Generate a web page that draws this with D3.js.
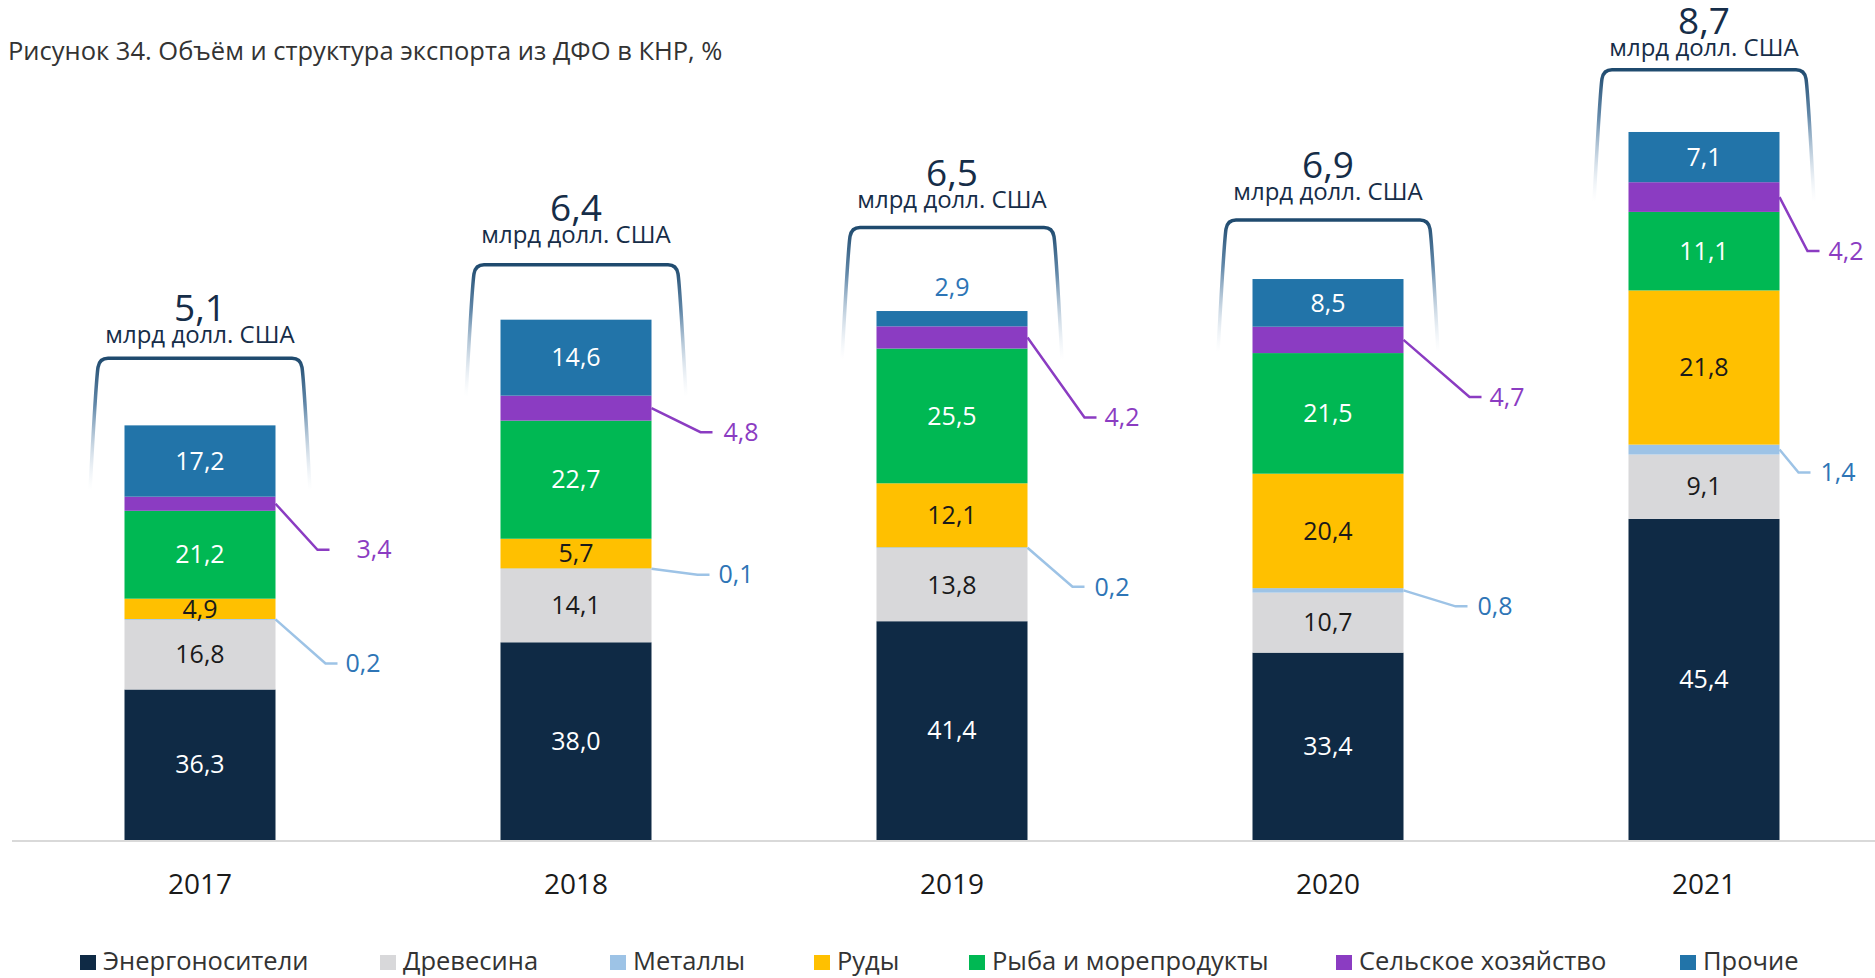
<!DOCTYPE html>
<html>
<head>
<meta charset="utf-8">
<script src="https://cdn.jsdelivr.net/npm/d3@7"></script>
<style>
  body { margin: 0; background: #fff; }
  svg { display: block; font-family: "Open Sans", sans-serif; }
</style>
</head>
<body>
<div id="chart"></div>
<script>
// data, % of the year's export
var years = ["2017", "2018", "2019", "2020", "2021"];
var totals = [5.1, 6.4, 6.5, 6.9, 8.7]; // млрд долл. США
var totalLabels = ["5,1", "6,4", "6,5", "6,9", "8,7"];

var categories = ["Энергоносители", "Древесина", "Металлы", "Руды",
  "Рыба и морепродукты", "Сельское хозяйство", "Прочие"];

var energy = [36.3, 38.0, 41.4, 33.4, 45.4];
var wood   = [16.8, 14.1, 13.8, 10.7, 9.1];
var metals = [0.2, 0.1, 0.2, 0.8, 1.4];
var ores   = [4.9, 5.7, 12.1, 20.4, 21.8];
var fish   = [21.2, 22.7, 25.5, 21.5, 11.1];
var agri   = [3.4, 4.8, 4.2, 4.7, 4.2];
var other  = [17.2, 14.6, 2.9, 8.5, 7.1];

var series = [energy, wood, metals, ores, fish, agri, other];

var colors = ["#0f2a45", "#d8d8da", "#9dc3e6", "#ffc000", "#00b853", "#8b3cc2", "#2274a9"];
var textColors = ["#fff", "#1a1a1a", null, "#1a1a1a", "#fff", null, "#fff"];

// layout bits (px)
var W = 1875, H = 978;
var baseY = 840;
var barW = 151;
var bracketGap = [67, 55, 84, 59, 63];
var totalLift = [0, 7, 5, 5, -1];
// callouts for thin segments: [dx, dy, gap to label]
var agriCallout  = [[42, 46, 27], [49, 24, 11], [57, 80, 8], [66, 57, 8], [28, 54, 9]];
var metalCallout = [[50, 44, 8], [46, 6, 9], [45, 39, 10], [52, 16, 10], [19, 23, 10]];
var legendX = [80, 380, 610, 814, 969, 1336, 1680];

var fmt = function(v){ return v.toFixed(1).replace(".", ","); };

// rows for d3.stack, values in млрд долл.
var rows = years.map(function(y, i){
  var r = { year: y, i: i };
  categories.forEach(function(c, k){ r[c] = totals[i] * series[k][i] / 100; });
  return r;
});
var stacked = d3.stack().keys(categories)(rows);

var x = d3.scalePoint().domain(years).range([200, 1704]);
var y = d3.scaleLinear().domain([0, 10]).range([baseY, baseY - 813]);

var svg = d3.select("#chart").append("svg")
  .attr("width", W)
  .attr("height", H);

// title
svg.append("text")
  .attr("x", 8)
  .attr("y", 60)
  .attr("font-size", 25.5)
  .attr("fill", "#333")
  .text("Рисунок 34. Объём и структура экспорта из ДФО в КНР, %");

// baseline
svg.append("line")
  .attr("x1", 12).attr("x2", W)
  .attr("y1", baseY + 1).attr("y2", baseY + 1)
  .attr("stroke", "#d9d9d9")
  .attr("stroke-width", 2);

// bars
var layers = svg.append("g").selectAll("g")
  .data(stacked)
  .enter().append("g")
  .attr("fill", function(d, k){ return colors[k]; });

layers.selectAll("rect")
  .data(function(d){ return d; })
  .enter().append("rect")
  .attr("x", function(d){ return x(d.data.year) - barW / 2; })
  .attr("y", function(d){ return y(d[1]); })
  .attr("width", barW)
  .attr("height", function(d){ return y(d[0]) - y(d[1]); });

// labels inside segments
stacked.forEach(function(layer, k){
  if (!textColors[k]) return;
  layer.forEach(function(d, i){
    var pct = series[k][i];
    var h = y(d[0]) - y(d[1]);
    var t = svg.append("text")
      .attr("x", x(d.data.year))
      .attr("font-size", 25)
      .attr("text-anchor", "middle")
      .text(fmt(pct));
    if (h < 17) {
      // too thin, put it above the bar
      t.attr("y", y(d[1]) - 24).attr("dy", "0.35em").attr("fill", "#2e75b6");
    } else {
      t.attr("y", (y(d[0]) + y(d[1])) / 2).attr("dy", "0.35em").attr("fill", textColors[k]);
    }
  });
});

// callouts
function callout(k, conf, lineColor, labelColor){
  stacked[k].forEach(function(d, i){
    var x0 = x(d.data.year) + barW / 2;
    var y0 = (y(d[0]) + y(d[1])) / 2;
    var c = conf[i];
    var x1 = x0 + c[0], y1 = y0 + c[1];
    svg.append("path")
      .attr("d", "M" + x0 + "," + y0 + "L" + x1 + "," + y1 + "L" + (x1 + 12) + "," + y1)
      .attr("fill", "none")
      .attr("stroke", lineColor)
      .attr("stroke-width", 2.5);
    svg.append("text")
      .attr("x", x1 + 12 + c[2])
      .attr("y", y1)
      .attr("dy", "0.35em")
      .attr("font-size", 25)
      .attr("fill", labelColor)
      .text(fmt(series[k][i]));
  });
}
callout(5, agriCallout, "#8b3cc2", "#8b3cc2");
callout(2, metalCallout, "#9dc3e6", "#2e75b6");

// brackets with fading legs
var grad = svg.append("defs").append("linearGradient")
  .attr("id", "fade")
  .attr("x1", 0).attr("x2", 0).attr("y1", 0).attr("y2", 1);
grad.append("stop").attr("offset", 0).attr("stop-color", "#1f4a6e").attr("stop-opacity", 1);
grad.append("stop").attr("offset", 0.35).attr("stop-color", "#46739a").attr("stop-opacity", 0.85);
grad.append("stop").attr("offset", 1).attr("stop-color", "#c9d9e8").attr("stop-opacity", 0);

years.forEach(function(yr, i){
  var cx = x(yr);
  var top = y(totals[i]) - bracketGap[i];
  var bot = top + 132;
  var p = "M" + (cx - 110) + "," + bot +
    "C" + (cx - 106) + "," + (top + 60) + " " + (cx - 104) + "," + (top + 22) + " " + (cx - 102) + "," + (top + 9) +
    "Q" + (cx - 100.5) + "," + top + " " + (cx - 92) + "," + top +
    "L" + (cx + 92) + "," + top +
    "Q" + (cx + 100.5) + "," + top + " " + (cx + 102) + "," + (top + 9) +
    "C" + (cx + 104) + "," + (top + 22) + " " + (cx + 106) + "," + (top + 60) + " " + (cx + 110) + "," + bot;
  svg.append("path")
    .attr("d", p)
    .attr("fill", "none")
    .attr("stroke", "url(#fade)")
    .attr("stroke-width", 3.5);

  svg.append("text")
    .attr("x", cx).attr("y", top - 37 - totalLift[i])
    .attr("text-anchor", "middle")
    .attr("font-size", 37)
    .attr("fill", "#162d48")
    .text(totalLabels[i]);
  svg.append("text")
    .attr("x", cx).attr("y", top - 15 - totalLift[i])
    .attr("text-anchor", "middle")
    .attr("font-size", 24)
    .attr("fill", "#162d48")
    .text("млрд долл. США");
});

// x axis labels
svg.append("g").selectAll("text")
  .data(years)
  .enter().append("text")
  .attr("x", function(d){ return x(d); })
  .attr("y", 894)
  .attr("text-anchor", "middle")
  .attr("font-size", 28)
  .attr("fill", "#1a1a1a")
  .text(function(d){ return d; });

// legend
var legend = svg.append("g").selectAll("g")
  .data(categories)
  .enter().append("g")
  .attr("transform", function(d, k){ return "translate(" + legendX[k] + ",0)"; });
legend.append("rect")
  .attr("y", 955)
  .attr("width", 16).attr("height", 15)
  .attr("fill", function(d, k){ return colors[k]; });
legend.append("text")
  .attr("x", 23)
  .attr("y", 970)
  .attr("font-size", 25.5)
  .attr("fill", "#333")
  .text(function(d){ return d; });
</script>
</body>
</html>
